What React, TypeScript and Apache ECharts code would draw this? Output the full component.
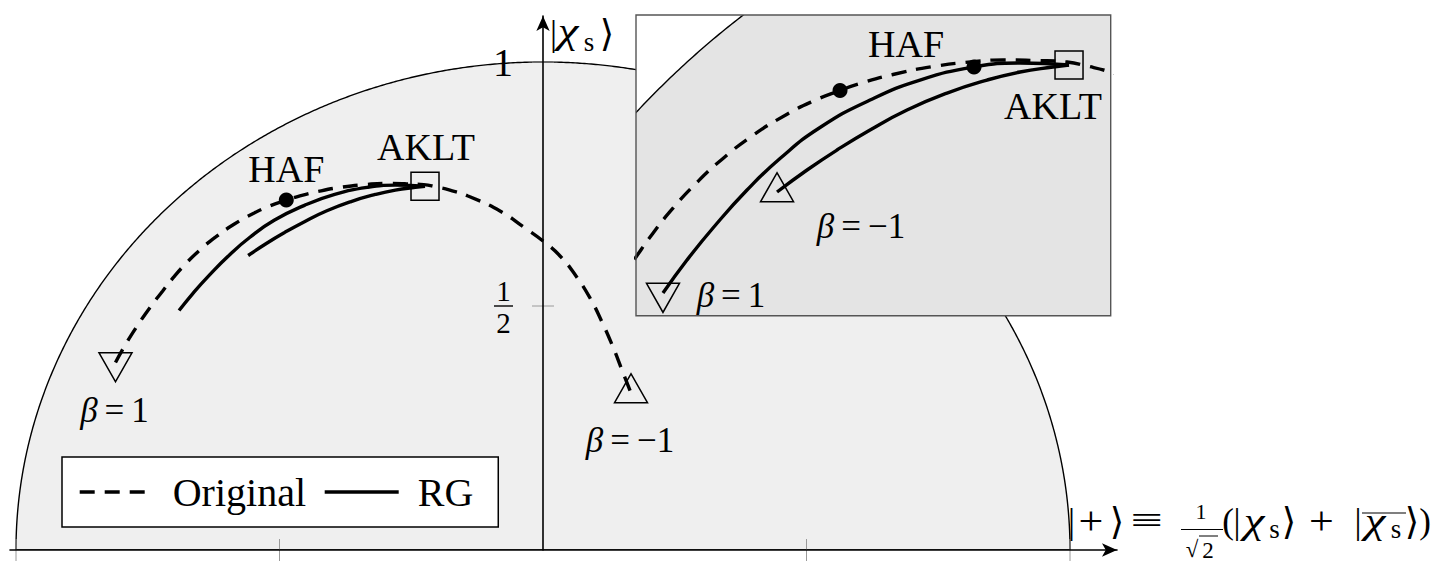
import { useEffect, useRef } from 'react';
import * as echarts from 'echarts';

const FONT = '"Liberation Serif", "DejaVu Serif", "DejaVu Sans", serif';

// Original (unrenormalised) path, from beta = 1 to beta = -1
const originalCurve: [number, number][] = [
  [-0.8112, 0.3842], [-0.7951, 0.4156], [-0.7723, 0.4553], [-0.7457, 0.4969],
  [-0.7216, 0.5309], [-0.7021, 0.5575], [-0.6791, 0.5854], [-0.6515, 0.6143],
  [-0.6216, 0.641], [-0.5871, 0.6669], [-0.548, 0.6904], [-0.5182, 0.705],
  [-0.4871, 0.717], [-0.4641, 0.7248], [-0.4262, 0.7348], [-0.3802, 0.7437],
  [-0.3342, 0.7491], [-0.2998, 0.7511], [-0.2607, 0.7504], [-0.2262, 0.7488],
  [-0.2032, 0.7443], [-0.1767, 0.7376], [-0.1423, 0.7254], [-0.0816, 0.6947],
  [-0.0342, 0.6598], [0, 0.6332], [0.0323, 0.6025], [0.0626, 0.5615],
  [0.0892, 0.5164], [0.112, 0.4672], [0.1328, 0.416], [0.1499, 0.3689],
  [0.167, 0.3217],
];

// RG flow starting at beta = 1 and ending at the AKLT point
const rgFromBetaOne: [number, number][] = [
  [-0.6906, 0.4906], [-0.663, 0.5275], [-0.6331, 0.5633], [-0.594, 0.6057],
  [-0.5561, 0.6409], [-0.5101, 0.6756], [-0.4526, 0.7063], [-0.3952, 0.7286],
  [-0.3331, 0.7432], [-0.2802, 0.7476], [-0.2239, 0.7454],
];

// RG flow starting at beta = -1 and ending at the AKLT point
const rgFromBetaMinusOne: [number, number][] = [
  [-0.5595, 0.6035], [-0.525, 0.6281], [-0.4906, 0.6504], [-0.4526, 0.6728],
  [-0.4101, 0.6951], [-0.3641, 0.7141], [-0.3182, 0.7286], [-0.2802, 0.7376],
  [-0.2423, 0.7432], [-0.2239, 0.7454],
];

const hafOriginal: [number, number] = [-0.4871, 0.717];
const hafRG: [number, number] = [-0.3331, 0.7432];
const akltPoint: [number, number] = [-0.2239, 0.7454];

const xTickValues = [-1, -0.5, 0.5, 1];
const yTickValues = [0.5, 1];
const yTickLabels = ['1/2', '1'];

// Layout of the main axes and of the magnified inset
const ORIGIN_X = 543;
const ORIGIN_Y = 550;
const UNIT_X = 527;
const UNIT_Y = 488;
const MAIN = { left: 10, top: 16, width: 1107, height: ORIGIN_Y - 16 };
const MAIN_X: [number, number] = [(MAIN.left - ORIGIN_X) / UNIT_X, (MAIN.left + MAIN.width - ORIGIN_X) / UNIT_X];
const MAIN_Y: [number, number] = [0, MAIN.height / UNIT_Y];
const INSET = { left: 636, top: 15, width: 474.7, height: 300.7 };
const INSET_X: [number, number] = [-0.7216, -0.176];
const INSET_Y: [number, number] = [0.4653, 0.8013];

const TRI_UP = 'path://M1,0L2,1.732L0,1.732Z';
const TRI_DOWN = 'path://M0,0L2,0L1,1.732Z';
const TRI_SIZE: [number, number] = [33, 29];
const TRI_SHIFT = 4.75;
const NAME_SIZE = 38;

const LABEL_RICH = {
  b: { fontFamily: FONT, fontSize: 35, fontStyle: 'italic', color: '#000' },
  t: { fontFamily: FONT, fontSize: 35, color: '#000' },
};

function diskSeries(axis: number, fill: string, z: number) {
  return {
    type: 'custom',
    xAxisIndex: axis,
    yAxisIndex: axis,
    z,
    clip: true,
    silent: true,
    data: [[0, 0]],
    renderItem: (_p: any, api: any) => {
      const pts: number[][] = [];
      for (let k = 0; k <= 720; k++) {
        const a = (Math.PI * k) / 720;
        pts.push(api.coord([Math.cos(a), Math.sin(a)]));
      }
      return {
        type: 'polygon',
        shape: { points: pts },
        style: { fill, stroke: '#000', lineWidth: 1.4 },
      };
    },
  };
}

function curveSeries(name: string, data: [number, number][], dashed: boolean, axis: number, z: number) {
  return {
    type: 'line',
    name,
    xAxisIndex: axis,
    yAxisIndex: axis,
    data,
    symbol: 'none',
    showSymbol: false,
    smooth: 0.5,
    clip: true,
    silent: true,
    z,
    lineStyle: { color: '#000', width: 3.4, type: dashed ? [15, 10] : 'solid', cap: 'butt' },
    itemStyle: { color: '#000' },
    emphasis: { disabled: true },
  };
}

function markerSeries(point: [number, number], symbol: string, size: any, shiftY: number, fill: string, axis: number, z: number) {
  return {
    type: 'scatter',
    xAxisIndex: axis,
    yAxisIndex: axis,
    data: [point],
    symbol,
    symbolSize: size,
    symbolOffset: [0, shiftY],
    silent: true,
    z,
    itemStyle: { color: fill, borderColor: '#000', borderWidth: fill === '#000' ? 0 : 1.5, opacity: 1 },
    emphasis: { disabled: true },
  };
}

function labelSeries(point: [number, number], text: string, offset: [number, number], axis: number, z: number) {
  return {
    type: 'scatter',
    xAxisIndex: axis,
    yAxisIndex: axis,
    data: [point],
    symbolSize: 1,
    silent: true,
    z,
    itemStyle: { color: 'rgba(0,0,0,0)', opacity: 1 },
    emphasis: { disabled: true },
    label: {
      show: true,
      position: 'inside',
      offset,
      formatter: text,
      color: '#000',
      opacity: 1,
      textBorderWidth: 0,
      fontFamily: FONT,
      fontSize: NAME_SIZE,
      align: 'center',
      verticalAlign: 'middle',
      rich: LABEL_RICH,
    },
  };
}

const BETA_ONE = '{b|β}{t|\u2009=\u20091}';
const BETA_MINUS_ONE = '{b|β}{t|\u2009=\u2009\u22121}';

// one glyph of an axis title, centred on (x, y)
function glyph(x: number, y: number, text: string, size: number, italic = false, stretch = 1) {
  return {
    type: 'text',
    x,
    y,
    scaleX: stretch,
    z: 100,
    silent: true,
    style: {
      text,
      fill: '#000',
      font: `${italic ? 'italic ' : ''}${size}px ${FONT}`,
      align: 'center',
      verticalAlign: 'middle',
    },
  };
}

function rule(x1: number, y1: number, x2: number, y2: number, w = 1.2) {
  return {
    type: 'line',
    z: 100,
    silent: true,
    shape: { x1, y1, x2, y2 },
    style: { stroke: '#000', lineWidth: w },
  };
}

export default function App() {
  const ref = useRef<HTMLDivElement>(null);

  useEffect(() => {
    if (!ref.current) return;
    const chart = echarts.init(ref.current, undefined, { renderer: 'svg' });

    const axisLine = {
      show: true,
      onZero: true,
      symbol: ['none', 'arrow'],
      symbolSize: [10, 15],
      lineStyle: { color: '#000', width: 1.6 },
    };

    const option = {
      animation: false,
      backgroundColor: '#fff',
      grid: [
        { ...MAIN, show: false, containLabel: false, outerBoundsMode: 'none' },
        { ...INSET, show: true, backgroundColor: '#fff', borderWidth: 0, z: 10, containLabel: false, outerBoundsMode: 'none' },
      ],
      xAxis: [
        {
          type: 'value', gridIndex: 0, min: MAIN_X[0], max: MAIN_X[1], z: 5,
          axisLine, axisTick: { show: false }, axisLabel: { show: false }, splitLine: { show: false },
        },
        { type: 'value', gridIndex: 1, min: INSET_X[0], max: INSET_X[1], show: false, splitLine: { show: false } },
      ],
      yAxis: [
        {
          type: 'value', gridIndex: 0, min: MAIN_Y[0], max: MAIN_Y[1], z: 5,
          axisLine, axisTick: { show: false }, axisLabel: { show: false }, splitLine: { show: false },
        },
        { type: 'value', gridIndex: 1, min: INSET_Y[0], max: INSET_Y[1], show: false, splitLine: { show: false } },
      ],
      legend: {
        data: ['Original', 'RG'],
        left: 62,
        top: 457,
        selectedMode: false,
        itemWidth: 74,
        itemHeight: 20,
        itemGap: 17,
        padding: [15, 25, 15, 16],
        backgroundColor: '#fff',
        borderColor: '#000',
        borderWidth: 1.5,
        borderRadius: 0,
        z: 20,
        lineStyle: { width: 3.4 },
        itemStyle: { opacity: 0 },
        textStyle: { fontFamily: FONT, fontSize: 40, color: '#000', padding: [0, 0, 0, 14] },
      },
      series: [
        // main panel
        diskSeries(0, '#efefef', 1),
        {
          type: 'custom', xAxisIndex: 0, yAxisIndex: 0, z: 2, silent: true,
          data: xTickValues.map((v) => [v, 0]),
          renderItem: (_p: any, api: any) => {
            const [x, y] = api.coord([api.value(0), api.value(1)]);
            return { type: 'line', shape: { x1: x, y1: y - 11, x2: x, y2: y + 11 }, style: { stroke: '#9a9a9a', lineWidth: 1 } };
          },
        },
        {
          type: 'custom', xAxisIndex: 0, yAxisIndex: 0, z: 2, silent: true,
          data: yTickValues.map((v) => [0, v]),
          renderItem: (_p: any, api: any) => {
            const [x, y] = api.coord([api.value(0), api.value(1)]);
            return { type: 'line', shape: { x1: x - 11, y1: y, x2: x + 11, y2: y }, style: { stroke: '#9a9a9a', lineWidth: 1 } };
          },
        },
        {
          // tick labels of the vertical axis: plain numbers or stacked fractions
          type: 'custom', xAxisIndex: 0, yAxisIndex: 0, z: 6, silent: true,
          data: yTickValues.map((v) => [0, v]),
          renderItem: (p: any, api: any) => {
            const [x, y] = api.coord([api.value(0), api.value(1)]);
            const label = yTickLabels[p.dataIndex];
            const right = x - 30;
            if (label.includes('/')) {
              const [num, den] = label.split('/');
              const cx = right - 9.5;
              const font = `29px ${FONT}`;
              return {
                type: 'group',
                children: [
                  { type: 'text', x: cx, y: y - 15, style: { text: num, font, fill: '#000', align: 'center', verticalAlign: 'middle' } },
                  { type: 'line', shape: { x1: right - 19, y1: y, x2: right, y2: y }, style: { stroke: '#000', lineWidth: 1.4 } },
                  { type: 'text', x: cx, y: y + 17, style: { text: den, font, fill: '#000', align: 'center', verticalAlign: 'middle' } },
                ],
              };
            }
            return { type: 'text', x: right, y, style: { text: label, font: `40px ${FONT}`, fill: '#000', align: 'right', verticalAlign: 'middle' } };
          },
        },
        curveSeries('Original', originalCurve, true, 0, 6),
        curveSeries('RG', rgFromBetaOne, false, 0, 6),
        curveSeries('RG', rgFromBetaMinusOne, false, 0, 6),
        markerSeries(hafOriginal, 'circle', 15, 0, '#000', 0, 7),
        markerSeries(akltPoint, 'rect', 28, 0, 'rgba(0,0,0,0)', 0, 7),
        markerSeries(originalCurve[0], TRI_DOWN, TRI_SIZE, TRI_SHIFT, 'rgba(0,0,0,0)', 0, 7),
        markerSeries(originalCurve[originalCurve.length - 1], TRI_UP, TRI_SIZE, -TRI_SHIFT, 'rgba(0,0,0,0)', 0, 7),
        labelSeries(hafOriginal, 'HAF', [0, -31], 0, 8),
        labelSeries(akltPoint, 'AKLT', [1, -39], 0, 8),
        labelSeries(originalCurve[0], BETA_ONE, [-1, 48], 0, 8),
        labelSeries(originalCurve[originalCurve.length - 1], BETA_MINUS_ONE, [-1, 47], 0, 8),

        // magnified inset
        diskSeries(1, '#e4e4e4', 11),
        curveSeries('Original', originalCurve, true, 1, 12),
        curveSeries('RG', rgFromBetaOne, false, 1, 12),
        curveSeries('RG', rgFromBetaMinusOne, false, 1, 12),
        markerSeries(hafOriginal, 'circle', 15, 0, '#000', 1, 13),
        markerSeries(hafRG, 'circle', 15, 0, '#000', 1, 13),
        markerSeries(akltPoint, 'rect', 28, 0, 'rgba(0,0,0,0)', 1, 13),
        markerSeries(rgFromBetaOne[0], TRI_DOWN, TRI_SIZE, TRI_SHIFT, 'rgba(0,0,0,0)', 1, 13),
        markerSeries(rgFromBetaMinusOne[0], TRI_UP, TRI_SIZE, -TRI_SHIFT, 'rgba(0,0,0,0)', 1, 13),
        labelSeries(hafRG, 'HAF', [-68, -23], 1, 14),
        labelSeries(akltPoint, 'AKLT', [-16, 41], 1, 14),
        labelSeries(rgFromBetaMinusOne[0], BETA_MINUS_ONE, [84, 34], 1, 14),
        labelSeries(rgFromBetaOne[0], BETA_ONE, [68, 2], 1, 14),
      ],
      graphic: [
        {
          type: 'rect',
          z: 100,
          silent: true,
          shape: { x: INSET.left, y: INSET.top, width: INSET.width, height: INSET.height },
          style: { fill: 'none', stroke: '#555', lineWidth: 1.4 },
        },
        // vertical axis title |chi_s>
        glyph(553.5, 33, '|', 35),
        glyph(568, 31, 'χ', 36, true, 1.3),
        glyph(589, 42, 's', 27),
        glyph(607, 33, '⟩', 37),
        // horizontal axis title |+> = (|chi_s> + |chi_s-bar>) / sqrt(2)
        glyph(1071.5, 521, '|', 35),
        glyph(1091, 521, '+', 40, false, 1.1),
        glyph(1117, 521, '⟩', 37),
        glyph(1146.5, 520, '≡', 36, false, 1.6),
        glyph(1201, 511, '1', 22),
        rule(1181, 529.5, 1223, 529.5, 1),
        glyph(1192, 549, '√', 23),
        glyph(1208, 550, '2', 23),
        rule(1199, 536, 1218, 536, 1),
        glyph(1228, 521, '(', 35),
        glyph(1237, 521, '|', 35),
        glyph(1254, 521, 'χ', 36, true, 1.3),
        glyph(1274.5, 529, 's', 27),
        glyph(1289, 521, '⟩', 37),
        glyph(1321.5, 521, '+', 40, false, 1.1),
        glyph(1358, 521, '|', 35),
        glyph(1375, 521, 'χ', 36, true, 1.3),
        glyph(1396, 529, 's', 27),
        glyph(1412, 521, '⟩', 37),
        glyph(1425, 521, ')', 35),
        rule(1362, 513, 1406, 513, 1.2),
      ],
    };

    chart.setOption(option as any);
    return () => chart.dispose();
  }, []);

  return <div ref={ref} style={{ position: 'fixed', left: 0, top: 0, width: 1438, height: 564 }} />;
}
